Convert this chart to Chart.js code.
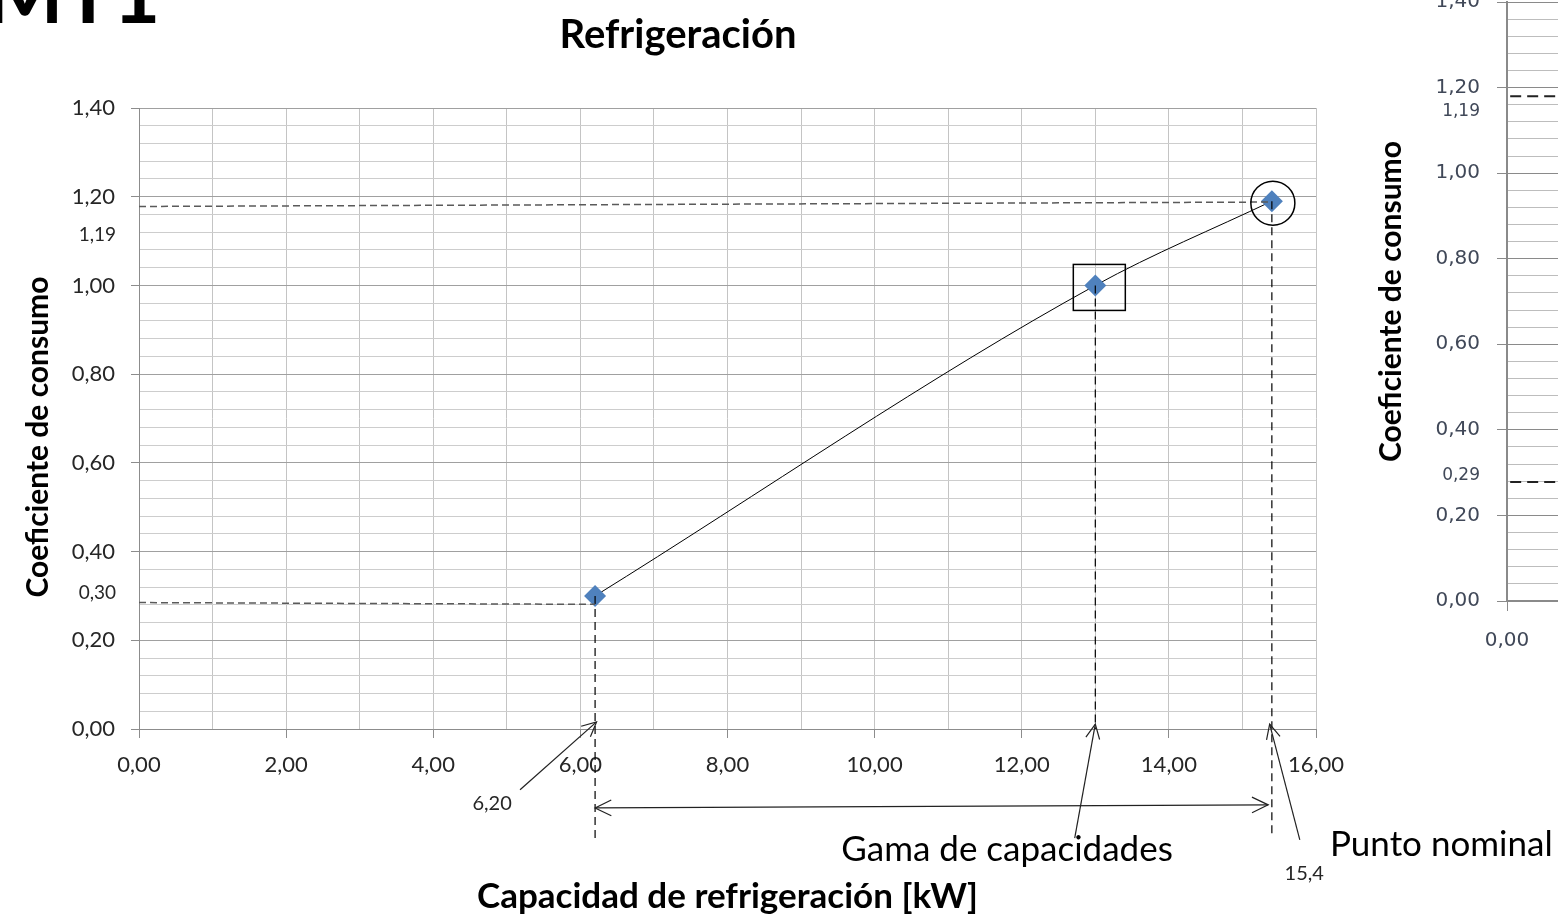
<!DOCTYPE html>
<html>
<head>
<meta charset="utf-8">
<script src="https://cdn.jsdelivr.net/npm/chart.js@4.4.0/dist/chart.umd.min.js"></script>
<style>
  html, body { margin: 0; padding: 0; background: #fff; overflow: hidden; width: 1558px; height: 920px; }
  #main { position: absolute; left: 0; top: 0; width: 1558px; height: 920px; }
  #side { position: absolute; left: 1370px; top: -40px; width: 1200px; height: 720px; }
  #mt { position: absolute; left: -14px; top: -49px; font: bold 82px Lato; line-height: 80px; color: #000; white-space: nowrap; }
</style>
</head>
<body>
<div id="mt">MT1</div>
<div id="side"><canvas id="sideChart"></canvas></div>
<div id="main"><canvas id="chart"></canvas></div>
<script>
// measured points of the cooling curve
const capacity = [6.2, 13.0, 15.4];
const coefficient = [0.30, 1.00, 1.19];

// axis ticks
const xTicks = [0, 2, 4, 6, 8, 10, 12, 14, 16];
const yTicks = [0, 0.2, 0.4, 0.6, 0.8, 1.0, 1.2, 1.4];

// dashed guide levels (left end, end at point)
const guideHigh = [1.178, 1.188];
const guideLow = [0.285, 0.281];
// where each vertical dashed guide stops (below the axis)
const guideBottom = [-0.25, 0, -0.245];

// extra small value labels on the y axis
const extraLabels = ['1,19', '0,30'];
const extraLabelAt = [1.115, 0.307];

// right (cut off) chart
const sideGuides = [1.18, 0.278];
const sideExtraLabels = ['1,19', '0,29'];
const sideExtraAt = [1.145, 0.292];

const fmt = v => v.toFixed(2).replace('.', ',');
const isMajor = (v, step) => Math.abs(v / step - Math.round(v / step)) < 1e-6;
const minorY = [];
for (let i = 0; i <= 35; i++) minorY.push(+(i * 0.04).toFixed(2));
const minorX = [];
for (let i = 0; i <= 16; i++) minorX.push(i);

function arrowHead(ctx, x1, y1, x2, y2, size) {
  const a = Math.atan2(y2 - y1, x2 - x1);
  ctx.beginPath();
  ctx.moveTo(x2 - size * Math.cos(a - 0.45), y2 - size * Math.sin(a - 0.45));
  ctx.lineTo(x2, y2);
  ctx.lineTo(x2 - size * Math.cos(a + 0.45), y2 - size * Math.sin(a + 0.45));
  ctx.stroke();
}

const notes = {
  id: 'notes',
  afterDatasetsDraw(chart) {
    const ctx = chart.ctx;
    const xs = chart.scales.x, ys = chart.scales.y;
    const px = v => xs.getPixelForValue(v), py = v => ys.getPixelForValue(v);
    ctx.save();

    // chart title
    ctx.fillStyle = '#000';
    ctx.font = 'bold 40px Lato';
    ctx.textAlign = 'center';
    ctx.textBaseline = 'middle';
    ctx.fillText('Refrigeración', 678, 35);

    // y axis title
    ctx.save();
    ctx.translate(38, 437);
    ctx.rotate(-Math.PI / 2);
    ctx.font = 'bold 30px Lato';
    ctx.fillText('Coeficiente de consumo', 0, 0);
    ctx.restore();

    // extra y labels
    ctx.font = '19px Lato';
    ctx.fillStyle = '#262626';
    ctx.textAlign = 'right';
    extraLabels.forEach((t, i) => ctx.fillText(t, 116, py(extraLabelAt[i])));

    // box around 13 kW point, circle around nominal point
    ctx.strokeStyle = '#000';
    ctx.lineWidth = 1.5;
    ctx.strokeRect(px(capacity[1]) - 22, py(coefficient[1]) - 21, 52, 46);
    ctx.beginPath();
    ctx.arc(px(capacity[2]) + 1, py(coefficient[2]) + 2, 22, 0, Math.PI * 2);
    ctx.stroke();

    // arrows
    ctx.lineWidth = 1.2;
    ctx.strokeStyle = '#222';
    const arrows = [
      [5.18, -0.137, capacity[0] + 0.02, 0.016],
      [12.72, -0.246, capacity[1], 0.011],
      [15.78, -0.25, capacity[2] - 0.03, 0.011]
    ];
    arrows.forEach(a => {
      const x1 = px(a[0]), y1 = py(a[1]), x2 = px(a[2]), y2 = py(a[3]);
      ctx.beginPath(); ctx.moveTo(x1, y1); ctx.lineTo(x2, y2); ctx.stroke();
      arrowHead(ctx, x1, y1, x2, y2, 16);
    });
    // capacity range double arrow
    const sx1 = px(capacity[0]), sy1 = py(-0.178), sx2 = px(15.35), sy2 = py(-0.171);
    ctx.beginPath(); ctx.moveTo(sx1, sy1); ctx.lineTo(sx2, sy2); ctx.stroke();
    arrowHead(ctx, sx1, sy1, sx2, sy2, 18);
    arrowHead(ctx, sx2, sy2, sx1, sy1, 18);

    // texts
    ctx.fillStyle = '#262626';
    ctx.textAlign = 'center';
    ctx.font = '20px Lato';
    ctx.fillText('6,20', px(4.8), py(-0.167));
    ctx.fillText('15,4', px(15.84), py(-0.325));
    ctx.fillStyle = '#000';
    ctx.font = '35px Lato';
    ctx.fillText('Gama de capacidades', px(11.8), py(-0.273));
    ctx.textAlign = 'left';
    ctx.fillText('Punto nominal', px(16.19), py(-0.262));
    ctx.restore();
  }
};

const points = capacity.map((x, i) => ({ x: x, y: coefficient[i] }));
const guides = [
  { data: [{ x: 0, y: guideHigh[0] }, { x: capacity[2], y: guideHigh[1] }], borderColor: '#5a5a5a', borderWidth: 1.5, borderDash: [7, 4] },
  { data: [{ x: 0, y: guideLow[0] }, { x: capacity[0], y: guideLow[1] }], borderColor: '#5a5a5a', borderWidth: 1.5, borderDash: [7, 4] }
];
capacity.forEach((c, i) => {
  guides.push({ data: [{ x: c, y: coefficient[i] }, { x: c, y: guideBottom[i] }], borderColor: '#000', borderWidth: 1.2, borderDash: [8, 5] });
});
guides.forEach(g => { g.showLine = true; g.pointRadius = 0; g.clip = false; g.tension = 0; });

new Chart('chart', {
  type: 'scatter',
  data: {
    datasets: guides.concat([{
      data: points,
      showLine: true,
      cubicInterpolationMode: 'monotone',
      borderColor: '#000',
      borderWidth: 1,
      pointStyle: 'rectRot',
      pointRadius: 11,
      pointBackgroundColor: '#4f81bd',
      pointBorderWidth: 0
    }])
  },
  options: {
    responsive: true,
    maintainAspectRatio: false,
    animation: false,
    layout: { padding: { left: 0, top: 108, right: 242, bottom: 0 } },
    plugins: { legend: { display: false }, tooltip: { enabled: false } },
    scales: {
      x: {
        type: 'linear', min: 0, max: 16,
        afterFit: s => { s.height = 191; },
        afterBuildTicks: s => { s.ticks = minorX.map(v => ({ value: v })); },
        ticks: {
          autoSkip: false, maxRotation: 0, padding: 14,
          font: { family: 'Lato', size: 22 }, color: '#262626',
          callback: v => xTicks.includes(v) ? fmt(v) : ''
        },
        grid: {
          color: '#c4c4c4', tickLength: 9,
          tickColor: c => c.tick && xTicks.includes(c.tick.value) ? '#8c8c8c' : 'rgba(0,0,0,0)'
        },
        border: { color: '#8c8c8c' },
        title: {
          display: true, text: 'Capacidad de refrigeración [kW]',
          font: { family: 'Lato', size: 35, weight: 'bold' }, color: '#000',
          padding: { top: 0, bottom: 2 }
        }
      },
      y: {
        min: 0, max: 1.4,
        afterFit: s => { s.width = 139; },
        afterBuildTicks: s => { s.ticks = minorY.map(v => ({ value: v })); },
        ticks: {
          autoSkip: false, padding: 16,
          font: { family: 'Lato', size: 22 }, color: '#262626',
          callback: v => yTicks.some(t => Math.abs(t - v) < 1e-6) ? fmt(v) : ''
        },
        grid: {
          tickLength: 8,
          color: c => c.tick && isMajor(c.tick.value, 0.2) ? '#a0a0a0' : '#cdcdcd',
          tickColor: c => c.tick && isMajor(c.tick.value, 0.2) ? '#8c8c8c' : 'rgba(0,0,0,0)'
        },
        border: { color: '#8c8c8c' },
        title: { display: false }
      }
    }
  },
  plugins: [notes]
});

// right-hand chart, only its left edge is on the page
const sideNotes = {
  id: 'sideNotes',
  afterDatasetsDraw(chart) {
    const ctx = chart.ctx, ys = chart.scales.y;
    ctx.save();
    ctx.font = '17px "DejaVu Sans"';
    ctx.fillStyle = '#404858';
    ctx.textAlign = 'right';
    ctx.textBaseline = 'middle';
    sideExtraLabels.forEach((t, i) => ctx.fillText(t, 110, ys.getPixelForValue(sideExtraAt[i])));
    ctx.restore();
  }
};

new Chart('sideChart', {
  type: 'scatter',
  data: {
    datasets: sideGuides.map(g => ({
      data: [{ x: 0.05, y: g }, { x: 16, y: g }],
      showLine: true, pointRadius: 0, borderColor: '#222', borderWidth: 2, borderDash: [11, 6]
    }))
  },
  options: {
    responsive: true,
    maintainAspectRatio: false,
    animation: false,
    layout: { padding: { left: 0, top: 42, right: 20, bottom: 0 } },
    plugins: { legend: { display: false }, tooltip: { enabled: false } },
    scales: {
      x: {
        type: 'linear', min: 0, max: 16,
        afterFit: s => { s.height = 79; },
        afterBuildTicks: s => { s.ticks = xTicks.map(v => ({ value: v })); },
        ticks: { autoSkip: false, maxRotation: 0, padding: 18, font: { family: 'DejaVu Sans', size: 20 }, color: '#404858', callback: v => fmt(v) },
        grid: { drawOnChartArea: false, tickLength: 10, tickColor: '#8a8a8a' },
        border: { color: '#8a8a8a', width: 2 }
      },
      y: {
        min: 0, max: 1.4,
        afterFit: s => { s.width = 137; },
        afterBuildTicks: s => { s.ticks = minorY.map(v => ({ value: v })); },
        ticks: {
          autoSkip: false, padding: 17,
          font: { family: 'DejaVu Sans', size: 20 }, color: '#404858',
          callback: v => yTicks.some(t => Math.abs(t - v) < 1e-6) ? fmt(v) : ''
        },
        grid: {
          tickLength: 10,
          color: c => c.tick && isMajor(c.tick.value, 0.2) ? '#8a8a8a' : '#bdbdbd',
          tickColor: c => c.tick && isMajor(c.tick.value, 0.2) ? '#8a8a8a' : 'rgba(0,0,0,0)'
        },
        border: { color: '#8a8a8a', width: 2 },
        title: {
          display: true, text: 'Coeficiente de consumo',
          font: { family: 'Lato', size: 30, weight: 'bold' }, color: '#000',
          padding: { top: 3, bottom: 0 }
        }
      }
    }
  },
  plugins: [sideNotes]
});
</script>
</body>
</html>
